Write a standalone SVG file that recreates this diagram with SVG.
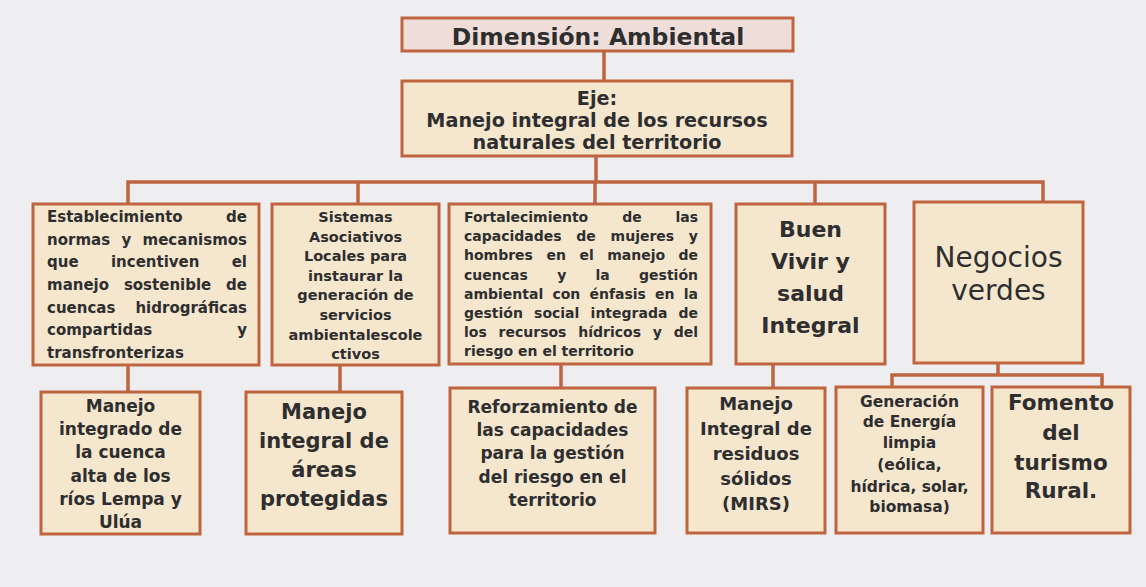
<svg xmlns="http://www.w3.org/2000/svg" width="1146" height="587" viewBox="0 0 1146 587">
<style>
.bg{fill:#EEEEF0}
.box{fill:#F5E6CE;stroke:#C0643F;stroke-width:3}
.top{fill:#EEDDD8;stroke:#C0643F;stroke-width:3}
.con{stroke:#BF6440;stroke-width:3.5;fill:none}
text{font-family:"DejaVu Sans","Liberation Sans",sans-serif;font-weight:bold;fill:#2E2E2E}
.c{text-anchor:middle}
.e{text-anchor:end}
.reg{font-weight:normal}
</style>
<rect class="bg" x="0" y="0" width="1146" height="587"/>
<g id="connectors">
<path class="con" d="M604 51V81"/>
<path class="con" d="M596 156V182"/>
<path class="con" d="M128 204V182H1043V202"/>
<path class="con" d="M358 182V204"/>
<path class="con" d="M595 182V204"/>
<path class="con" d="M815 182V204"/>
<path class="con" d="M128 365V392"/>
<path class="con" d="M340 365V392"/>
<path class="con" d="M561 364V388"/>
<path class="con" d="M773 364V388"/>
<path class="con" d="M998 363V375"/>
<path class="con" d="M892 387V375H1102V387"/>
</g>
<g id="dimension">
<rect class="top" x="402" y="18" width="391" height="33"/>
<text class="c" x="598" y="45" font-size="23.5">Dimensión: Ambiental</text>
</g>
<g id="eje">
<rect class="box" x="402" y="81" width="390" height="75"/>
<text class="c" font-size="19.2"><tspan x="597" y="105">Eje:</tspan><tspan x="597" y="127">Manejo integral de los recursos</tspan><tspan x="597" y="149">naturales del territorio</tspan></text>
</g>
<g id="n1">
<rect class="box" x="33" y="204" width="226" height="161"/>
<g font-size="15">
<text y="222"><tspan x="47">Establecimiento</tspan><tspan x="247" class="e">de</tspan></text>
<text y="245"><tspan x="47">normas</tspan><tspan x="126.3" class="c">y</tspan><tspan x="247" class="e">mecanismos</tspan></text>
<text y="267"><tspan x="47">que</tspan><tspan x="155.2" class="c">incentiven</tspan><tspan x="247" class="e">el</tspan></text>
<text y="290"><tspan x="47">manejo</tspan><tspan x="167.6" class="c">sostenible</tspan><tspan x="247" class="e">de</tspan></text>
<text y="313"><tspan x="47">cuencas</tspan><tspan x="247" class="e">hidrográficas</tspan></text>
<text y="335"><tspan x="47">compartidas</tspan><tspan x="247" class="e">y</tspan></text>
<text y="358" x="47">transfronterizas</text>
</g>
</g>
<g id="n2">
<rect class="box" x="272" y="204" width="167" height="161"/>
<text class="c" font-size="14.5"><tspan x="355.5" y="222">Sistemas</tspan><tspan x="355.5" y="241.6">Asociativos</tspan><tspan x="355.5" y="261.2">Locales para</tspan><tspan x="355.5" y="280.8">instaurar la</tspan><tspan x="355.5" y="300.4">generación de</tspan><tspan x="355.5" y="320">servicios</tspan><tspan x="355.5" y="339.6">ambientalescole</tspan><tspan x="355.5" y="359.2">ctivos</tspan></text>
</g>
<g id="n3">
<rect class="box" x="449" y="204" width="262" height="160"/>
<g font-size="14">
<text y="222"><tspan x="464">Fortalecimiento</tspan><tspan x="632.1" class="c">de</tspan><tspan x="698" class="e">las</tspan></text>
<text y="241"><tspan x="464">capacidades</tspan><tspan x="586.1" class="c">de</tspan><tspan x="642.4" class="c">mujeres</tspan><tspan x="698" class="e">y</tspan></text>
<text y="260"><tspan x="464">hombres</tspan><tspan x="556.2" class="c">en</tspan><tspan x="586.6" class="c">el</tspan><tspan x="636.2" class="c">manejo</tspan><tspan x="698" class="e">de</tspan></text>
<text y="279.5"><tspan x="464">cuencas</tspan><tspan x="561.7" class="c">y</tspan><tspan x="602.7" class="c">la</tspan><tspan x="698" class="e">gestión</tspan></text>
<text y="298.5"><tspan x="464">ambiental</tspan><tspan x="566.4" class="c">con</tspan><tspan x="617.7" class="c">énfasis</tspan><tspan x="664.8" class="c">en</tspan><tspan x="698" class="e">la</tspan></text>
<text y="317.5"><tspan x="464">gestión</tspan><tspan x="556.7" class="c">social</tspan><tspan x="629" class="c">integrada</tspan><tspan x="698" class="e">de</tspan></text>
<text y="336.5"><tspan x="464">los</tspan><tspan x="532.5" class="c">recursos</tspan><tspan x="609.6" class="c">hídricos</tspan><tspan x="657.3" class="c">y</tspan><tspan x="698" class="e">del</tspan></text>
<text y="355.5" x="464">riesgo en el territorio</text>
</g>
</g>
<g id="n4">
<rect class="box" x="736" y="204" width="149" height="160"/>
<text class="c" font-size="22"><tspan x="810.5" y="237">Buen</tspan><tspan x="810.5" y="269">Vivir y</tspan><tspan x="810.5" y="301">salud</tspan><tspan x="810.5" y="333">Integral</tspan></text>
</g>
<g id="n5">
<rect class="box" x="914" y="202" width="169" height="161"/>
<text class="c reg" font-size="28"><tspan x="998.5" y="267">Negocios</tspan><tspan x="998.5" y="300">verdes</tspan></text>
</g>
<g id="n6">
<rect class="box" x="41" y="392" width="159" height="142"/>
<text class="c" font-size="17"><tspan x="120.5" y="412">Manejo</tspan><tspan x="120.5" y="435">integrado de</tspan><tspan x="120.5" y="458.3">la cuenca</tspan><tspan x="120.5" y="481.7">alta de los</tspan><tspan x="120.5" y="505">ríos Lempa y</tspan><tspan x="120.5" y="528.3">Ulúa</tspan></text>
</g>
<g id="n7">
<rect class="box" x="246" y="392" width="156" height="142"/>
<text class="c" font-size="21"><tspan x="324" y="419">Manejo</tspan><tspan x="324" y="448">integral de</tspan><tspan x="324" y="477">áreas</tspan><tspan x="324" y="506">protegidas</tspan></text>
</g>
<g id="n8">
<rect class="box" x="450" y="388" width="205" height="145"/>
<text class="c" font-size="17"><tspan x="552.5" y="412.7">Reforzamiento de</tspan><tspan x="552.5" y="436">las capacidades</tspan><tspan x="552.5" y="459.3">para la gestión</tspan><tspan x="552.5" y="482.7">del riesgo en el</tspan><tspan x="552.5" y="506">territorio</tspan></text>
</g>
<g id="n9">
<rect class="box" x="687" y="388" width="138" height="145"/>
<text class="c" font-size="18"><tspan x="756" y="410">Manejo</tspan><tspan x="756" y="435">Integral de</tspan><tspan x="756" y="460">residuos</tspan><tspan x="756" y="485">sólidos</tspan><tspan x="756" y="510">(MIRS)</tspan></text>
</g>
<g id="n10">
<rect class="box" x="836" y="387" width="147" height="146"/>
<text class="c" font-size="15.5"><tspan x="909.5" y="406.7">Generación</tspan><tspan x="909.5" y="427">de Energía</tspan><tspan x="909.5" y="448.3">limpia</tspan><tspan x="909.5" y="470">(eólica,</tspan><tspan x="909.5" y="491.7">hídrica, solar,</tspan><tspan x="909.5" y="511.7">biomasa)</tspan></text>
</g>
<g id="n11">
<rect class="box" x="992" y="387" width="138" height="146"/>
<text class="c" font-size="21.5"><tspan x="1061" y="410">Fomento</tspan><tspan x="1061" y="440">del</tspan><tspan x="1061" y="470">turismo</tspan><tspan x="1061" y="498.3">Rural.</tspan></text>
</g>
</svg>
